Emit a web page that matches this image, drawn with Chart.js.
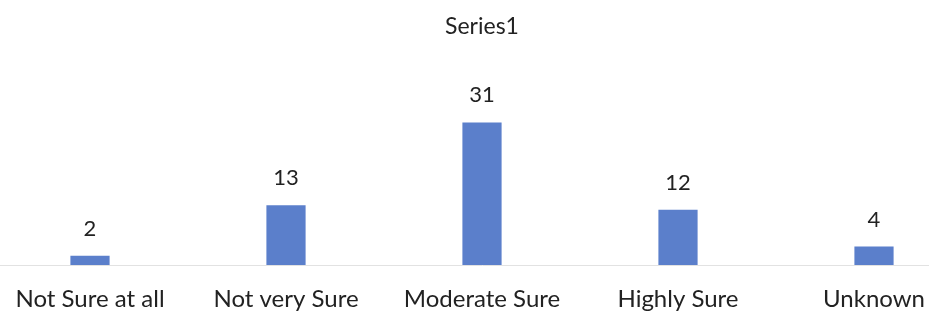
<!DOCTYPE html>
<html>
<head>
<meta charset="utf-8">
<script src="https://cdn.jsdelivr.net/npm/chart.js@4/dist/chart.umd.min.js"></script>
<style>
  html, body { margin: 0; padding: 0; background: #ffffff; overflow: hidden; }
  body { width: 929px; height: 320px; position: relative; }
  #wrap { position: absolute; left: -8px; top: 0; width: 998px; height: 320px; }
</style>
</head>
<body>
<div id="wrap"><canvas id="chart"></canvas></div>
<script>
const categories = ["Not Sure at all", "Not very Sure", "Moderate Sure", "Highly Sure", "Unknown"];
const seriesName = "Series1";
const seriesValues = [2, 13, 31, 12, 4];

const FONT = "Lato, 'Open Sans', sans-serif";
const TEXT = "#222222";

// Writes each bar's value just above its top edge
const valueLabels = {
  id: "valueLabels",
  afterDatasetsDraw(chart) {
    const ctx = chart.ctx;
    const meta = chart.getDatasetMeta(0);
    ctx.save();
    ctx.font = "22px " + FONT;
    ctx.fillStyle = TEXT;
    ctx.textAlign = "center";
    ctx.textBaseline = "middle";
    meta.data.forEach((bar, i) => {
      ctx.fillText(String(seriesValues[i]), bar.x, bar.y - 27);
    });
    ctx.restore();
  }
};

new Chart(document.getElementById("chart"), {
  type: "bar",
  data: {
    labels: categories,
    datasets: [{
      label: seriesName,
      data: seriesValues,
      backgroundColor: "#5b7fcb",
      borderWidth: 0,
      barPercentage: 0.2,
      categoryPercentage: 1.0
    }]
  },
  options: {
    responsive: true,
    maintainAspectRatio: false,
    animation: false,
    layout: { padding: { left: 0, right: 18, top: 0, bottom: 0 } },
    plugins: {
      legend: { display: false },
      tooltip: { enabled: false },
      title: {
        display: true,
        text: seriesName,
        color: TEXT,
        font: { family: FONT, size: 23, weight: "normal" },
        padding: { top: 13, bottom: 40.4 }
      }
    },
    scales: {
      x: {
        grid: { display: false, drawTicks: false },
        border: { display: true, color: "#e2e2e2", width: 1 },
        ticks: {
          color: TEXT,
          font: { family: FONT, size: 24 },
          padding: 20,
          maxRotation: 0,
          autoSkip: false
        },
        afterFit(scale) { scale.height = 55; }
      },
      y: {
        display: false,
        min: 0,
        max: 40
      }
    }
  },
  plugins: [valueLabels]
});
</script>
</body>
</html>
